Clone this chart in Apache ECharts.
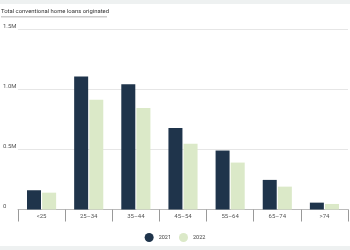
<!DOCTYPE html>
<html>
<head>
<meta charset="utf-8">
<script src="https://cdn.jsdelivr.net/npm/echarts@6/dist/echarts.min.js"></script>
<style>html,body{margin:0;padding:0;background:#fff}#c{width:350px;height:250px}</style>
</head>
<body>
<div id="c"></div>
<script>
const categories = ['<25', '25\u201334', '35\u201344', '45\u201354', '55\u201364', '65\u201374', '>74'];
const loans2021 = [160000, 1105000, 1040000, 677000, 490000, 246000, 57000];
const loans2022 = [140000, 912000, 843000, 546000, 390000, 190000, 46000];
const yTicks = {0: '0', 500000: '0.5M', 1000000: '1.0M', 1500000: '1.5M'};

const chart = echarts.init(document.getElementById('c'), null, {renderer: 'canvas'});
chart.setOption({
  animation: false,
  backgroundColor: '#fff',
  title: {
    text: 'Total conventional home loans originated',
    left: 1, top: 9, padding: 0,
    textStyle: {fontFamily: 'Roboto', fontSize: 5.9, fontWeight: 'normal', color: '#333'}
  },
  graphic: [
    {type: 'rect', z: 100, shape: {x: 0, y: 0, width: 350, height: 4}, style: {fill: '#eef1f1'}},
    {type: 'rect', z: 100, shape: {x: 0, y: 246, width: 350, height: 4}, style: {fill: '#eef1f1'}},
    {type: 'rect', z: 100, shape: {x: 1, y: 16.5, width: 106, height: 0.8}, style: {fill: '#999'}}
  ],
  legend: {
    bottom: 3, left: 'center',
    icon: 'circle', itemWidth: 9, itemHeight: 9, itemGap: 8,
    textStyle: {fontFamily: 'Roboto', fontSize: 5.5, color: '#444'},
    data: ['2021', '2022']
  },
  grid: {left: 15, right: 2, top: 29, bottom: 40.5, containLabel: false},
  xAxis: {
    type: 'category', data: categories,
    axisLine: {lineStyle: {color: '#bbb', width: 1}},
    axisTick: {show: true, length: 12, lineStyle: {color: '#999'}},
    axisLabel: {fontFamily: 'Roboto', fontSize: 6, color: '#555', margin: 4}
  },
  yAxis: {
    type: 'value', min: 0, max: 1500000, interval: 500000,
    axisLine: {show: false}, axisTick: {show: false},
    splitLine: {lineStyle: {color: '#e6e6e6', width: 1}},
    axisLabel: {
      fontFamily: 'Roboto', fontSize: 6, color: '#555',
      align: 'left', verticalAlign: 'bottom', margin: 15,
      formatter: v => yTicks[v] !== undefined ? yTicks[v] : ''
    }
  },
  series: [
    {name: '2021', type: 'bar', data: loans2021, barWidth: 14, barGap: '8%',
     itemStyle: {color: '#1f344b'}},
    {name: '2022', type: 'bar', data: loans2022, barWidth: 14,
     itemStyle: {color: '#dbe9c8'}}
  ]
});
</script>
</body>
</html>
